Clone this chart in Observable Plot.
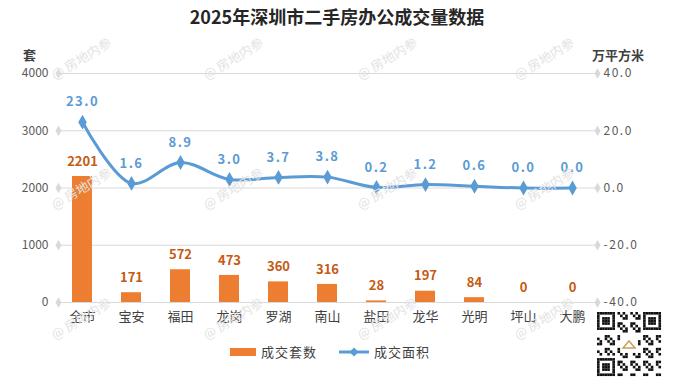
<!DOCTYPE html>
<html>
<head>
<meta charset="utf-8">
<script src="https://cdn.jsdelivr.net/npm/d3@7"></script>
<script src="https://cdn.jsdelivr.net/npm/@observablehq/plot@0.6"></script>
<style>
  html, body { margin: 0; padding: 0; background: #fff; }
  #wrap { position: relative; width: 674px; height: 387px; overflow: hidden;
          font-family: "Noto Sans CJK SC", "Noto Sans", sans-serif; }
  #wrap svg { position: absolute; left: 0; top: 0; }
  .title { position: absolute; left: 0; width: 674px; top: 4px; text-align: center;
           font-size: 18px; font-weight: bold; color: #262626; line-height: 24px; }
  .axt { position: absolute; font-size: 13px; font-weight: bold; color: #404040; line-height: 16px; }
  .legend { position: absolute; top: 343px; left: 230px; font-size: 13px; color: #404040;
            display: flex; align-items: center; line-height: 18px; }
  .arealabel text { letter-spacing: 1.5px; }
</style>
</head>
<body>
<div id="wrap">
  <div class="title">2025年深圳市二手房办公成交量数据</div>
</div>
<script>
// ---- data ----
const districts = ["全市", "宝安", "福田", "龙岗", "罗湖", "南山", "盐田", "龙华", "光明", "坪山", "大鹏"];
const units     = [2201, 171, 572, 473, 360, 316, 28, 197, 84, 0, 0];      // 成交套数 (套)
const areas     = [23.0, 1.6, 8.9, 3.0, 3.7, 3.8, 0.2, 1.2, 0.6, 0.0, 0.0]; // 成交面积 (万平方米)
const leftTicks  = [0, 1000, 2000, 3000, 4000];
const rightTicks = [-40, -20, 0, 20, 40];

const rows = districts.map((d, i) => ({district: d, units: units[i], area: areas[i]}));
// map right-axis (万平方米, -40..40) onto left-axis domain (0..4000)
const r2l = v => (v + 40) * 50;
const l2r = v => v / 50 - 40;

const BLUE = "#5B9BD5", ORANGE = "#ED7D31", ORANGE_DARK = "#C55A11", GRID = "#d9d9d9";
const FONT = '"Noto Sans CJK SC", "Noto Sans", sans-serif';

const chart = Plot.plot({
  width: 674,
  height: 387,
  marginTop: 73,
  marginBottom: 85,
  marginLeft: 58,
  marginRight: 77,
  style: {fontFamily: FONT, fontSize: "12px", color: "#595959", background: "transparent"},
  x: {domain: districts, paddingInner: 0.59, paddingOuter: 0.295, label: null},
  y: {domain: [0, 4000], label: null},
  marks: [
    Plot.ruleY(leftTicks, {stroke: GRID, strokeWidth: 1}),
    Plot.dot(leftTicks, {y: d => d, frameAnchor: "left", symbol: "diamond", r: 3.2, fill: GRID, stroke: null}),
    Plot.dot(rightTicks, {y: d => r2l(d), frameAnchor: "right", symbol: "diamond", r: 3.2, fill: GRID, stroke: null}),
    Plot.axisY({ticks: leftTicks, tickFormat: d => String(d), tickSize: 0, tickPadding: 10, label: null, fill: "#595959", fontSize: 12}),
    Plot.axisY({anchor: "right", ticks: rightTicks.map(r2l), tickFormat: d => l2r(d).toFixed(1),
                tickSize: 0, tickPadding: 6, label: null, fill: "#595959", fontSize: 12, className: "arealabel"}),
    Plot.axisX({tickSize: 0, tickPadding: 9, label: null, fill: "#404040", fontSize: 13}),
    Plot.barY(rows, {x: "district", y: "units", fill: ORANGE}),
    Plot.text(rows, {x: "district", y: "units", text: d => String(d.units), dy: -15,
                     fill: ORANGE_DARK, fontWeight: "bold", fontSize: 13}),
    Plot.line(rows, {x: "district", y: d => r2l(d.area), stroke: BLUE, strokeWidth: 3, curve: "catmull-rom"}),
    Plot.dot(rows, {x: "district", y: d => r2l(d.area), symbol: "diamond", r: 4.5, fill: BLUE, stroke: null}),
    Plot.text(rows, {x: "district", y: d => r2l(d.area), text: d => d.area.toFixed(1), dy: -20,
                     fill: BLUE, fontWeight: "bold", fontSize: 13, className: "arealabel"})
  ]
});

const wrap = document.getElementById("wrap");
wrap.appendChild(chart);

// axis titles
const t1 = document.createElement("div");
t1.className = "axt"; t1.style.left = "23px"; t1.style.top = "47px"; t1.textContent = "套";
wrap.appendChild(t1);
const t2 = document.createElement("div");
t2.className = "axt"; t2.style.left = "592px"; t2.style.top = "47px"; t2.textContent = "万平方米";
wrap.appendChild(t2);

// legend
const lg = document.createElement("div");
lg.className = "legend";
lg.innerHTML =
  '<svg width="26" height="10" style="position:static"><rect x="0" y="1" width="26" height="8" fill="' + ORANGE + '"/></svg>' +
  '<span style="margin-left:5px;letter-spacing:1px">成交套数</span>' +
  '<svg width="30" height="12" style="position:static;margin-left:22px"><line x1="0" y1="6" x2="30" y2="6" stroke="' + BLUE + '" stroke-width="3"/>' +
  '<path d="M15,1.5 L19.5,6 L15,10.5 L10.5,6 Z" fill="' + BLUE + '"/></svg>' +
  '<span style="margin-left:5px;letter-spacing:1px">成交面积</span>';
wrap.appendChild(lg);

// watermark overlay + QR badge (decoration)
const ns = "http://www.w3.org/2000/svg";
const ov = document.createElementNS(ns, "svg");
ov.setAttribute("width", 674); ov.setAttribute("height", 387);
ov.style.pointerEvents = "none";
const wmCols = [55, 207, 361, 518];
const wmRows = [80, 210, 340];
wmRows.forEach(yy => wmCols.forEach(xx => {
  const t = document.createElementNS(ns, "text");
  t.setAttribute("x", xx); t.setAttribute("y", yy);
  t.setAttribute("transform", `rotate(-31 ${xx} ${yy})`);
  t.setAttribute("fill", "#e3e3e3");
  t.setAttribute("font-size", "13");
  t.setAttribute("font-family", FONT);
  t.textContent = "@ 房地内参";
  ov.appendChild(t);
}));
// QR-like badge
const qx = 597, qy = 312, qs = 64, n = 25, m = qs / n;
const g = document.createElementNS(ns, "g");
const bg = document.createElementNS(ns, "rect");
bg.setAttribute("x", qx); bg.setAttribute("y", qy); bg.setAttribute("width", qs); bg.setAttribute("height", qs);
bg.setAttribute("fill", "#fff"); g.appendChild(bg);
function cell(i, j) {
  const r = document.createElementNS(ns, "rect");
  r.setAttribute("x", qx + i * m); r.setAttribute("y", qy + j * m);
  r.setAttribute("width", m + 0.05); r.setAttribute("height", m + 0.05);
  r.setAttribute("fill", "#111"); g.appendChild(r);
}
function inFinder(i, j) {
  const f = (a, b) => i >= a && i < a + 8 && j >= b && j < b + 8;
  return f(0, 0) || f(n - 8, 0) || f(0, n - 8);
}
for (let i = 0; i < n; i++) for (let j = 0; j < n; j++) {
  if (inFinder(i, j)) continue;
  if (i >= 9 && i <= 15 && j >= 9 && j <= 15) continue;
  if (((i * 7 + j * 13 + i * j) % 5) < 2) cell(i, j);
}
[[0, 0], [n - 7, 0], [0, n - 7]].forEach(([a, b]) => {
  for (let i = 0; i < 7; i++) for (let j = 0; j < 7; j++) {
    const edge = i === 0 || j === 0 || i === 6 || j === 6;
    const core = i >= 2 && i <= 4 && j >= 2 && j <= 4;
    if (edge || core) cell(a + i, b + j);
  }
});
const logo = document.createElementNS(ns, "path");
logo.setAttribute("d", `M${qx + 26},${qy + 36} L${qx + 32},${qy + 29} L${qx + 38},${qy + 36} Z`);
logo.setAttribute("fill", "none"); logo.setAttribute("stroke", "#c8a060"); logo.setAttribute("stroke-width", "1.5");
g.appendChild(logo);
ov.appendChild(g);
wrap.appendChild(ov);
</script>
</body>
</html>
